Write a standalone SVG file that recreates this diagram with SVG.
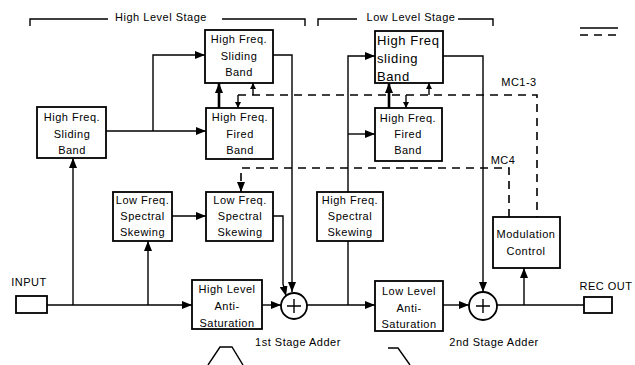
<svg xmlns="http://www.w3.org/2000/svg" width="635" height="365" viewBox="0 0 635 365">
<defs>
<marker id="ah" markerUnits="userSpaceOnUse" markerWidth="10" markerHeight="8" refX="10" refY="4" orient="auto"><path d="M0,0 L10,4 L0,8 Z" fill="#000"/></marker>
<marker id="as" markerUnits="userSpaceOnUse" markerWidth="6" markerHeight="6" refX="6" refY="3" orient="auto"><path d="M0,0 L6,3 L0,6 Z" fill="#000"/></marker>
<style>
.box{fill:#fff;stroke:#000;stroke-width:1.8}
.t{font-family:"Liberation Sans",Arial,sans-serif;font-size:11px;letter-spacing:0.5px;fill:#000;text-anchor:middle}
.tl{font-family:"Liberation Sans",Arial,sans-serif;font-size:13px;letter-spacing:0.6px;fill:#000}
.c{fill:none;stroke:#000;stroke-width:1.4}
.ca{fill:none;stroke:#000;stroke-width:1.4;marker-end:url(#ah)}
.thick{fill:none;stroke:#000;stroke-width:2.6;marker-end:url(#ah)}
.sm{fill:none;stroke:#000;stroke-width:1.4;marker-end:url(#as)}
.d{fill:none;stroke:#000;stroke-width:1.6;stroke-dasharray:8 6}
.da{fill:none;stroke:#000;stroke-width:1.6;stroke-dasharray:8 6;marker-end:url(#ah)}
</style>
</defs>
<rect width="635" height="365" fill="#fff"/>

<g id="brackets">
<path class="c" d="M30,26 V19 H108 M222,19 H305 V26"/>
<text class="t" x="161" y="21">High Level Stage</text>
<path class="c" d="M318,26 V19 H357 M458,19 H493 V26"/>
<text class="t" x="411" y="21">Low Level Stage</text>
</g>

<g id="legend">
<path class="c" d="M580,28 H618"/>
<path class="d" d="M580,35 H618" stroke-dasharray="5 4"/>
</g>

<g id="connectors">
<path class="ca" d="M47,305 H192"/>
<path class="ca" d="M73,305 V158"/>
<path class="ca" d="M148,305 V241"/>
<path class="ca" d="M106,131 H206"/>
<path class="ca" d="M153,131 V55 H205"/>
<path class="thick" d="M219,108 V83"/>
<path class="ca" d="M172,216 H206"/>
<path class="ca" d="M273,55 H292 V292"/>
<path class="ca" d="M273,216 H283 V284 L286,296"/>
<path class="ca" d="M262,305 H281"/>
<path class="ca" d="M307,305 H375"/>
<path class="c" d="M348,305 V241"/>
<path class="ca" d="M348,192 V56 H375"/>
<path class="ca" d="M348,134 H375"/>
<path class="thick" d="M389,108 V83"/>
<path class="ca" d="M443,56 H483 V292"/>
<path class="ca" d="M443,305 H469"/>
<path class="c" d="M497,305 H584"/>
<path class="ca" d="M524,305 V268"/>
<path class="d" d="M238,95 H537 V217"/>
<path class="sm" d="M238,95 V108"/>
<path class="sm" d="M253,95 V83"/>
<path class="sm" d="M406,95 V108"/>
<path class="sm" d="M429,95 V83"/>
<path class="da" d="M509,217 V168 H241 V192"/>
<text class="t" x="519" y="86">MC1-3</text>
<text class="t" x="503" y="164">MC4</text>
</g>

<g id="input">
<text class="t" x="29" y="286">INPUT</text>
<rect class="box" x="16" y="296" width="31" height="17"/>
</g>

<g id="hf-sliding-left">
<rect class="box" x="37" y="107" width="69" height="51"/>
<text class="t" x="72" y="121">High Freq.</text>
<text class="t" x="72" y="138">Sliding</text>
<text class="t" x="72" y="154">Band</text>
</g>

<g id="hf-sliding-high">
<rect class="box" x="205" y="30" width="68" height="53"/>
<text class="t" x="239" y="43">High Freq.</text>
<text class="t" x="239" y="60">Sliding</text>
<text class="t" x="239" y="76">Band</text>
</g>

<g id="hf-fired-high">
<rect class="box" x="206" y="108" width="67" height="51"/>
<text class="t" x="240" y="121">High Freq.</text>
<text class="t" x="240" y="138">Fired</text>
<text class="t" x="240" y="154">Band</text>
</g>

<g id="lf-skewing-1">
<rect class="box" x="113" y="192" width="59" height="49"/>
<text class="t" x="142.5" y="204">Low Freq.</text>
<text class="t" x="142.5" y="220">Spectral</text>
<text class="t" x="142.5" y="236">Skewing</text>
</g>

<g id="lf-skewing-2">
<rect class="box" x="206" y="192" width="67" height="49"/>
<text class="t" x="240" y="204">Low Freq.</text>
<text class="t" x="240" y="220">Spectral</text>
<text class="t" x="240" y="236">Skewing</text>
</g>

<g id="hl-anti-saturation">
<rect class="box" x="192" y="280" width="70" height="49"/>
<text class="t" x="227" y="293">High Level</text>
<text class="t" x="227" y="310">Anti-</text>
<text class="t" x="227" y="327">Saturation</text>
</g>

<g id="adder-1">
<circle cx="294" cy="306" r="13" fill="#fff" stroke="#000" stroke-width="1.8"/>
<path class="c" d="M287,306 H301 M294,299 V313" stroke-width="1.8"/>
<text class="t" x="298" y="346">1st Stage Adder</text>
</g>

<g id="hf-skewing">
<rect class="box" x="317" y="192" width="66" height="49"/>
<text class="t" x="350" y="204">High Freq.</text>
<text class="t" x="350" y="220">Spectral</text>
<text class="t" x="350" y="236">Skewing</text>
</g>

<g id="hf-sliding-low">
<rect class="box" x="375" y="31" width="68" height="52"/>
<text class="tl" x="377" y="45">High Freq</text>
<text class="tl" x="377" y="63">sliding</text>
<text class="tl" x="377" y="81">Band</text>
</g>

<g id="hf-fired-low">
<rect class="box" x="375" y="108" width="67" height="53"/>
<text class="t" x="408" y="122">High Freq.</text>
<text class="t" x="408" y="138">Fired</text>
<text class="t" x="408" y="154">Band</text>
</g>

<g id="ll-anti-saturation">
<rect class="box" x="375" y="281" width="68" height="50"/>
<text class="t" x="409" y="295">Low Level</text>
<text class="t" x="409" y="312">Anti-</text>
<text class="t" x="409" y="328">Saturation</text>
</g>

<g id="adder-2">
<circle cx="483" cy="306" r="14" fill="#fff" stroke="#000" stroke-width="1.8"/>
<path class="c" d="M476,306 H490 M483,299 V313" stroke-width="1.8"/>
<text class="t" x="494" y="346">2nd Stage Adder</text>
</g>

<g id="modulation-control">
<rect class="box" x="493" y="217" width="67" height="51"/>
<text class="t" x="526" y="238">Modulation</text>
<text class="t" x="526" y="255">Control</text>
</g>

<g id="rec-out">
<text class="t" x="606" y="290">REC OUT</text>
<rect class="box" x="584" y="297" width="28" height="16"/>
</g>

<g id="shapes">
<path class="c" d="M208,365 L220,347 H232 L243,365"/>
<path class="c" d="M388,348 H398 L410,365"/>
</g>
</svg>
